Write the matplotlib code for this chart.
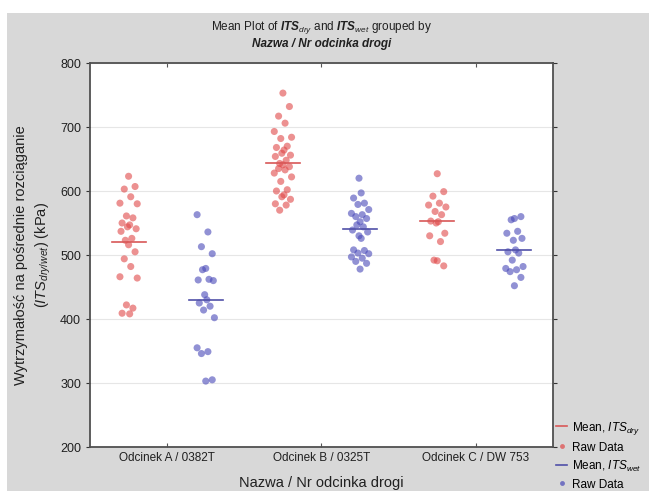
import numpy as np
import matplotlib
matplotlib.use('Agg')
import matplotlib.pyplot as plt
from matplotlib.patches import Rectangle
from matplotlib.lines import Line2D

plt.rcParams['font.family'] = ['Liberation Sans', 'DejaVu Sans']
plt.rcParams['mathtext.fontset'] = 'custom'
plt.rcParams['mathtext.rm'] = 'Liberation Sans'
plt.rcParams['mathtext.it'] = 'Liberation Sans:italic'
plt.rcParams['mathtext.bf'] = 'Liberation Sans:bold'
plt.rcParams['mathtext.bfit'] = 'Liberation Sans:bold:italic'

groups = ['Odcinek A / 0382T', 'Odcinek B / 0325T', 'Odcinek C / DW 753']

# raw values (kPa)
dry_a = [623, 607, 603, 591, 581, 580, 561, 558, 550, 547, 544, 541, 537, 526, 523,
         516, 505, 494, 482, 466, 464, 422, 417, 409, 408]
wet_a = [563, 536, 513, 502, 479, 477, 462, 461, 460, 438, 430, 425, 420, 414, 402,
         355, 349, 346, 305, 303]
dry_b = [753, 732, 717, 706, 693, 684, 682, 670, 668, 664, 659, 656, 654, 648, 643,
         641, 638, 635, 633, 628, 622, 615, 602, 600, 594, 591, 587, 580, 578, 570]
wet_b = [620, 597, 589, 581, 579, 571, 565, 563, 560, 557, 552, 547, 544, 539, 536,
         530, 526, 508, 507, 503, 502, 497, 495, 490, 487, 478]
dry_c = [627, 599, 592, 581, 578, 575, 568, 563, 553, 552, 550, 534, 530, 521, 492,
         491, 483]
wet_c = [560, 557, 555, 537, 534, 526, 523, 508, 505, 503, 492, 482, 479, 477, 474,
         465, 452]

dry_means = [521, 643, 553]
wet_means = [430, 540, 508]

dry = [dry_a, dry_b, dry_c]
wet = [wet_a, wet_b, wet_c]

red_pt = '#e04848'
blue_pt = '#4848b8'
red_ln = '#d85858'
blue_ln = '#5050a8'

fig = plt.figure(figsize=(6.49, 4.91), dpi=100)
fig.patch.set_facecolor('white')
fig.add_artist(Rectangle((7 / 649, 0), 1, 1 - 13 / 491, transform=fig.transFigure,
                         facecolor='#d8d8d8', edgecolor='none', zorder=-10))

ax = fig.add_axes([90 / 649, 1 - 447 / 491, 463 / 649, 384 / 491])
ax.set_facecolor('white')


def jitter(n):
    # deterministic spread so the dots don't stack
    pattern = np.array([0, 3, -2, 1, -4, 4, -1, 2, -3, 0.5, -0.5, 3.5, -3.5, 1.5, -1.5])
    return pattern[np.arange(n) % len(pattern)] * 0.014


off = 0.25
for i in range(3):
    xc = i + 1
    xd = xc - off + jitter(len(dry[i]))
    xw = xc + off + jitter(len(wet[i]))[::-1]
    ax.scatter(xd, dry[i], s=26, color=red_pt, alpha=0.6, edgecolors='none', zorder=3)
    ax.scatter(xw, wet[i], s=26, color=blue_pt, alpha=0.6, edgecolors='none', zorder=3)
    ax.plot([xc - off - 0.11, xc - off + 0.11], [dry_means[i]] * 2, color=red_ln, lw=1.2, zorder=4)
    ax.plot([xc + off - 0.11, xc + off + 0.11], [wet_means[i]] * 2, color=blue_ln, lw=1.2, zorder=4)

ax.set_xlim(0.5, 3.5)
ax.set_ylim(200, 800)
ax.set_yticks(range(200, 801, 100))
ax.set_xticks([1, 2, 3])
ax.set_xticklabels(groups, fontsize=8.5, color='#202020')
ax.tick_params(axis='y', labelsize=9, colors='#333333', labelcolor='#202020', length=3,
               right=True, direction='out')
ax.tick_params(axis='x', length=3, top=True, direction='in', colors='#555555', labelcolor='#202020')
ax.grid(axis='y', color='#e6e6e6', lw=0.8)
ax.set_axisbelow(True)
for s in ax.spines.values():
    s.set_color('#505050')
    s.set_linewidth(1.3)

ax.set_ylabel('Wytrzymałość na pośrednie rozciąganie\n($\\mathit{ITS}_{dry/wet}$) (kPa)',
              fontsize=10.5, color='#202020', labelpad=5, linespacing=1.45)
ax.set_xlabel('Nazwa / Nr odcinka drogi', fontsize=10.5, color='#202020', labelpad=9)

fig.text(0.5 * (90 + 553) / 649, 1 - 28 / 491,
         'Mean Plot of $\\mathbfit{ITS}_{dry}$ and $\\mathbfit{ITS}_{wet}$ grouped by',
         ha='center', va='center', fontsize=8.5, color='#202020')
fig.text(0.5 * (90 + 553) / 649, 1 - 44 / 491, 'Nazwa / Nr odcinka drogi',
         ha='center', va='center', fontsize=8.5, fontweight='bold', style='italic', color='#202020')

handles = [
    Line2D([], [], color=red_ln, lw=1.2),
    Line2D([], [], marker='o', ls='none', color=red_pt, alpha=0.7, markersize=3.5, markeredgewidth=0),
    Line2D([], [], color=blue_ln, lw=1.2),
    Line2D([], [], marker='o', ls='none', color=blue_pt, alpha=0.7, markersize=3.5, markeredgewidth=0),
]
labels = ['Mean, $\\mathit{ITS}_{dry}$', 'Raw Data', 'Mean, $\\mathit{ITS}_{wet}$', 'Raw Data']
fig.legend(handles, labels, loc='lower left', bbox_to_anchor=(548 / 649, -0.016),
           frameon=False, fontsize=8.5, handlelength=0.9, handletextpad=0.4,
           labelspacing=0.42, borderpad=0.2)

fig.savefig('out.png', dpi=100)
